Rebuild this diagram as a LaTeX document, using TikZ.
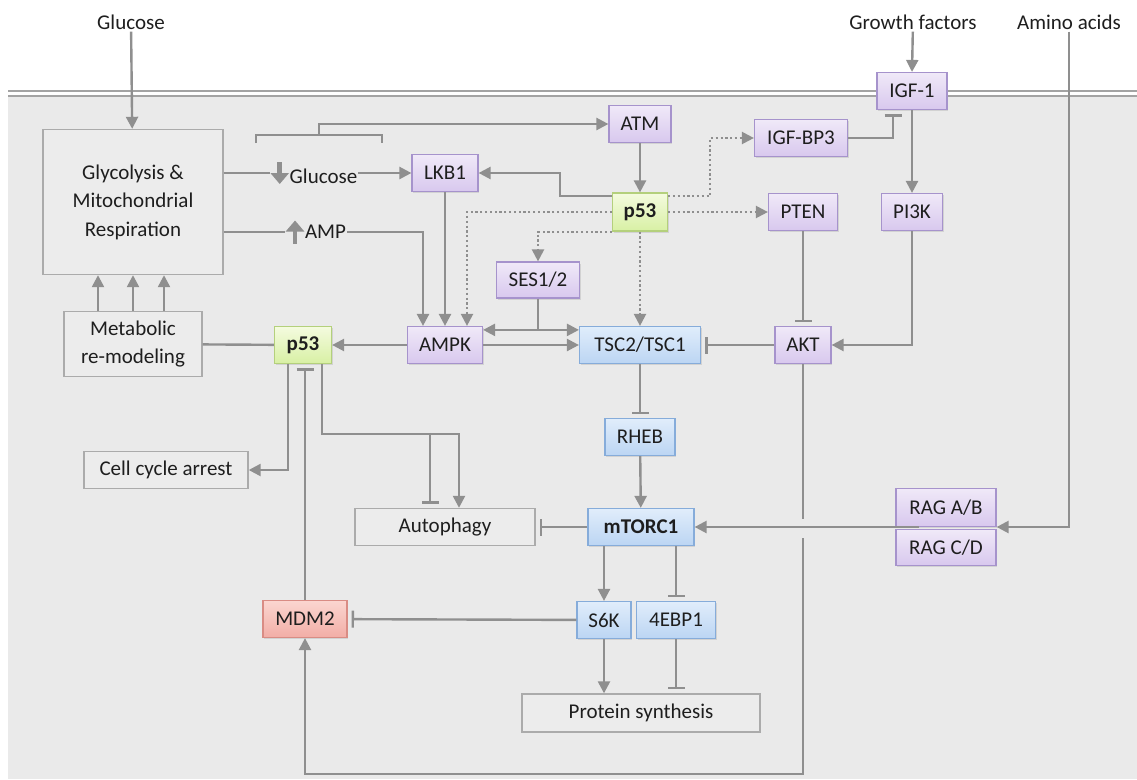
\documentclass[tikz,border=0pt]{standalone}
\usepackage{fontspec}
\setmainfont{Carlito}
\usetikzlibrary{arrows.meta,calc,shadows}
\definecolor{linkGrey}{HTML}{8F8F8F}
\definecolor{membGrey}{HTML}{A3A3A3}
\definecolor{cellFill}{HTML}{EAEAEA}
\definecolor{plainStroke}{HTML}{ABABAB}
\definecolor{plainFill}{HTML}{ECECEC}
\definecolor{purpStroke}{HTML}{A693CC}
\definecolor{purpTop}{HTML}{F0E9F8}
\definecolor{purpBot}{HTML}{D8C8EE}
\definecolor{blueStroke}{HTML}{86ACDA}
\definecolor{blueTop}{HTML}{E0EDFB}
\definecolor{blueBot}{HTML}{BBD5F3}
\definecolor{grnStroke}{HTML}{B4D07C}
\definecolor{grnTop}{HTML}{F4FBDF}
\definecolor{grnBot}{HTML}{D8F0A4}
\definecolor{redStroke}{HTML}{D98C84}
\definecolor{redTop}{HTML}{FBD6D0}
\definecolor{redBot}{HTML}{F2ADA6}
\definecolor{inkText}{HTML}{1E1E1E}

% thick grey up/down marks in front of a label
\newcommand{\downmark}{\tikz[baseline=0pt]\draw[linkGrey, line width=4.5pt,
  -{Triangle[length=11pt,width=18pt]}] (0pt,21pt) -- (0pt,-1pt);}
\newcommand{\upmark}{\tikz[baseline=0pt]\draw[linkGrey, line width=4.5pt,
  -{Triangle[length=11pt,width=18pt]}] (0pt,-5pt) -- (0pt,18pt);}

\begin{document}
\begin{tikzpicture}[x=1pt, y=-1pt,
  font=\fontsize{21}{24}\selectfont,
  every node/.style={text=inkText},
  box/.style={draw, line width=1.2pt, align=center, inner sep=0pt,
              minimum height=37pt,
              drop shadow={shadow xshift=1.2pt, shadow yshift=-1.5pt, opacity=0.22}},
  purp/.style={box, draw=purpStroke, top color=purpTop, bottom color=purpBot},
  blu/.style={box, draw=blueStroke, top color=blueTop, bottom color=blueBot},
  grn/.style={box, draw=grnStroke, top color=grnTop, bottom color=grnBot, font=\fontsize{21}{24}\selectfont\bfseries},
  rdbox/.style={box, draw=redStroke, top color=redTop, bottom color=redBot},
  plain/.style={draw=plainStroke, fill=plainFill, line width=1.4pt, align=center,
                inner sep=0pt, minimum height=37pt},
  outside/.style={inner sep=2pt},
  link/.style={draw=linkGrey, line width=2.4pt},
  flow/.style={link, -{Triangle[length=12pt,width=12pt]}},
  dflow/.style={link, {Triangle[length=12pt,width=12pt]}-{Triangle[length=12pt,width=12pt]}},
  inh/.style={link, -{Bar[width=17pt]}, shorten >=4pt},
  dotflow/.style={flow, line width=2.2pt, dash pattern=on 2.2pt off 2.6pt},
]
\useasboundingbox (0,0) rectangle (1137,779);

% ---------------- CELL + MEMBRANE ----------------
\fill[cellFill] (8,96) rectangle (1137,779);
\draw[membGrey, line width=1.5pt] (8,91) -- (1137,91);
\draw[membGrey, line width=1.5pt] (8,96) -- (1137,96);

% ---------------- NODES (pixel grid, y down) ----------------
% inputs from outside the cell
\node[outside] (GLC) at (131,22) {Glucose};
\node[outside] (GF) at (913,22) {Growth factors};
\node[outside] (AA) at (1069,22) {Amino acids};

% metabolism, left column
\node[plain, minimum width=180pt, minimum height=145pt,
      font=\fontsize{21}{28.5}\selectfont] (GLYC) at (133,202)
  {Glycolysis \&\\Mitochondrial\\Respiration};
\node[plain, minimum width=138pt, minimum height=65pt,
      font=\fontsize{21}{27.5}\selectfont] (METAB) at (133,344)
  {Metabolic\\re-modeling};
\node[plain, minimum width=164pt] (CCA) at (166,470) {Cell cycle arrest};
\node[inner sep=1pt] (DGLC) at (314,173) {\downmark\hspace{1pt}Glucose};
\node[inner sep=1pt] (UAMP) at (316,232) {\upmark\hspace{1pt}AMP};

% upstream kinases
\node[purp, minimum width=62pt] (ATM) at (640,124) {ATM};
\node[purp, minimum width=66pt] (LKB) at (445,173) {LKB1};
\node[grn, minimum width=55pt, minimum height=38pt] (PA) at (640,212) {p53};
\node[purp, minimum width=93pt] (IGFBP) at (801,138) {IGF-BP3};
\node[purp, minimum width=69pt] (PTEN) at (803,212) {PTEN};
\node[purp, minimum width=70pt] (IGF) at (912,91) {IGF-1};
\node[purp, minimum width=61pt] (PIK) at (912,212) {PI3K};
\node[purp, minimum width=83pt, minimum height=36pt] (SES) at (538,280) {SES1/2};

% middle row
\node[grn, minimum width=57pt] (PB) at (303,345) {p53};
\node[purp, minimum width=75pt] (AMPK) at (445,345) {AMPK};
\node[blu, minimum width=121pt] (TSC) at (640,345) {TSC2/TSC1};
\node[purp, minimum width=56pt] (AKT) at (803,345) {AKT};

% mTOR axis
\node[blu, minimum width=70pt] (RHEB) at (640,437) {RHEB};
\node[blu, minimum width=106pt, font=\fontsize{21}{24}\selectfont\bfseries] (MTOR) at (641,527) {mTORC1};
\node[plain, minimum width=180pt] (AUTO) at (445,527) {Autophagy};
\node[purp, minimum width=100pt, minimum height=38pt, anchor=south] (RAGAB) at (946,527) {RAG A/B};
\node[purp, minimum width=100pt, minimum height=36pt, anchor=north] (RAGCD) at (946,529) {RAG C/D};
\node[blu, minimum width=54pt] (S6K) at (604,620) {S6K};
\node[blu, minimum width=79pt] (EBP) at (676,620) {4EBP1};
\node[rdbox, minimum width=84pt, minimum height=37pt] (MDM) at (305,619) {MDM2};
\node[plain, minimum width=238pt, minimum height=38pt] (PROT) at (641,713) {Protein synthesis};

% ---------------- EDGES ----------------
\draw[flow] (GLC) -- (GLYC);
\draw[link] (GLYC.east |- DGLC) -- (DGLC.west);
\draw[flow] (DGLC.east) -- (LKB.west);
\draw[link] (GLYC.east |- UAMP) -- (UAMP.west);
\draw[flow] (UAMP.east) -| ($(AMPK.north)+(-22,0)$);
% bracket over the low-glucose label, feeding ATM
\coordinate (brL) at (256,143);
\coordinate (brR) at (382,143);
\coordinate (brM) at (319,135);
\draw[link] (brL) -- ++(0,-8) -| (brR);
\draw[flow] (brM) |- (ATM.west);
\draw[flow] (ATM) -- (PA);
\draw[flow] ($(PA.west)+(0,-16)$) -- ++(-52,0) |- (LKB.east);
\draw[flow] (LKB) -- (AMPK);
% p53 transcriptional targets (dotted)
\draw[dotflow] ($(PA.east)+(0,-16)$) -- ++(42,0) |- (IGFBP.west);
\draw[dotflow] (PA.east) -- (PTEN.west);
\draw[dotflow] (PA.west) -| ($(AMPK.north)+(22,0)$);
\draw[dotflow] (PA.south west) -| (SES.north);
\draw[dotflow] (PA.south) -- (TSC.north);
% sestrins act on AMPK and TSC
\draw[dflow] ($(AMPK.north east)+(0,4)$) -- ($(TSC.north west)+(0,4)$);
\draw[link] (SES.south) -- ($(SES.south |- AMPK.north)+(0,4)$);
\draw[flow] (AMPK) -- (TSC);
\draw[inh] (AKT) -- (TSC);
\draw[inh] (PTEN) -- (AKT);
% growth factor branch
\draw[flow] (GF) -- (IGF.north);
\draw[inh] (IGFBP.east) -| ($(IGF.south)+(-19,0)$);
\draw[flow] (IGF) -- (PIK);
\draw[flow] (PIK.south) |- (AKT.east);
% amino acids
\draw[flow] (AA) |- (RAGAB.south east);
\draw[flow] ($(RAGAB.south)+(-27,0)$) -- (MTOR.east);
% mTOR axis
\draw[inh] (TSC) -- (RHEB);
\draw[flow] (RHEB) -- (MTOR);
\draw[inh] (MTOR) -- (AUTO);
\draw[flow] (S6K.north |- MTOR.south) -- (S6K.north);
\draw[inh] (EBP.north |- MTOR.south) -- (EBP.north);
\draw[flow] (S6K) -- (S6K.south |- PROT.north);
\draw[inh] (EBP) -- (EBP.south |- PROT.north);
\draw[inh] (S6K) -- (MDM);
\draw[inh] (MDM) -- (MDM.north |- PB.south);
% AKT down to MDM2, broken where it crosses the RAG line
\draw[link] (AKT.south) -- ++(0,155);
\draw[flow] ($(AKT.south)+(0,174)$) -- ++(0,236) -| (MDM.south);
% lower p53 outputs
\draw[flow] (AMPK) -- (PB);
\draw[link] (PB) -- (METAB);
\foreach \dx in {-35,0,31}
  \draw[flow] ($(METAB.north)+(\dx,0)$) -- ($(GLYC.south)+(\dx,0)$);
\draw[flow] ($(PB.south)+(-15,0)$) |- (CCA.east);
\draw[flow] ($(PB.south)+(19,0)$) -- ++(0,70) -| ($(AUTO.north)+(14,0)$);
\draw[inh] ($(AUTO.north)+(-15,-75)$) -- ($(AUTO.north)+(-15,0)$);
\end{tikzpicture}
\end{document}
